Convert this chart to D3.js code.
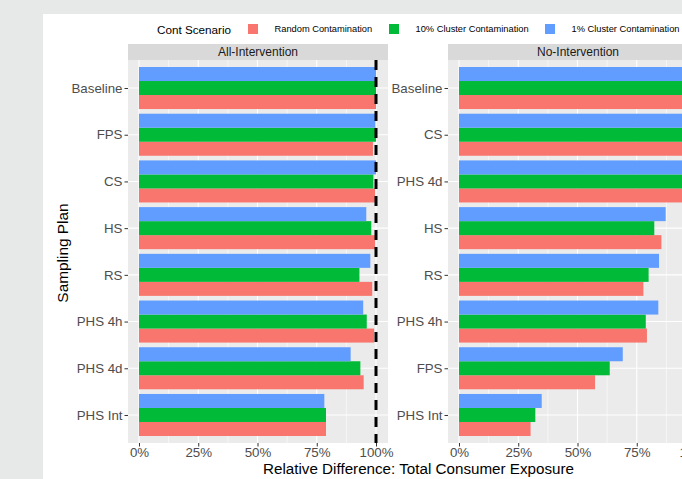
<!DOCTYPE html>
<html>
<head>
<meta charset="utf-8">
<script src="https://cdn.jsdelivr.net/npm/d3@7"></script>
<style>
  html, body { margin: 0; padding: 0; background: #e6e9e8; }
  svg { display: block; }
  text { font-family: "Liberation Sans", Arial, sans-serif; }
</style>
</head>
<body>
<svg id="chart" width="682" height="479"></svg>
<script>
// Contamination scenarios (legend order) and their fill colours
const scenarios = ["Random Contamination", "10% Cluster Contamination", "1% Cluster Contamination"];
const scenarioColors = ["#f8766d", "#00ba38", "#619cff"];

// Facet titles
const facets = ["All-Intervention", "No-Intervention"];

// Sampling plans per facet, top to bottom
const plansAll = ["Baseline", "FPS", "CS", "HS", "RS", "PHS 4h", "PHS 4d", "PHS Int"];
const plansNo = ["Baseline", "CS", "PHS 4d", "HS", "RS", "PHS 4h", "FPS", "PHS Int"];

// Relative difference in total consumer exposure, one array per scenario, in plan order
const allRandom = [1.000, 0.987, 0.996, 0.996, 0.984, 0.992, 0.948, 0.789];
const allCluster10 = [1.000, 1.000, 0.989, 0.980, 0.930, 0.961, 0.934, 0.789];
const allCluster1 = [1.000, 0.997, 1.000, 0.959, 0.976, 0.946, 0.893, 0.782];

const noRandom = [1.000, 1.000, 1.000, 0.854, 0.778, 0.793, 0.574, 0.302];
const noCluster10 = [1.000, 1.000, 1.000, 0.824, 0.800, 0.788, 0.636, 0.322];
const noCluster1 = [1.000, 1.000, 1.000, 0.872, 0.844, 0.841, 0.691, 0.349];

// X axis ticks
const xTicks = [0, 0.25, 0.5, 0.75, 1.0];
const xMinorTicks = [0.125, 0.375, 0.625, 0.875];
const referenceValue = 1.0;

const svg = d3.select("#chart");

// White plot background
svg.append("rect").attr("x", 43).attr("y", 14).attr("width", 682 - 43).attr("height", 479 - 14).attr("fill", "#ffffff");

// Panel geometry
const panelTop = 60, panelBottom = 443, stripTop = 44;
const panelW = 260;
const panelLefts = [128, 448];

const panelsData = [
  { title: facets[0], plans: plansAll, series: [allRandom, allCluster10, allCluster1], refLine: true },
  { title: facets[1], plans: plansNo, series: [noRandom, noCluster10, noCluster1], refLine: false }
];

const fmtPct = d3.format(".0%");

panelsData.forEach((p, pi) => {
  const left = panelLefts[pi];
  const g = svg.append("g");

  // Continuous x with 5% expansion on each side of [0, 1.0]
  const x = d3.scaleLinear().domain([-0.0464, 1.0506]).range([left, left + panelW]);

  // Discrete y with 0.6 units of padding at each end
  const y = d3.scalePoint().domain(p.plans).range([panelTop, panelBottom]).padding(0.6);
  const step = y.step();
  const barGroup = 0.9 * step;
  // Dodged position: blue (1%) on top, then green (10%), then red (random)
  const inner = d3.scaleBand().domain([2, 1, 0]).range([-barGroup / 2, barGroup / 2]);

  // Panel background
  g.append("rect").attr("x", left).attr("y", panelTop).attr("width", panelW)
    .attr("height", panelBottom - panelTop).attr("fill", "#ebebeb");

  // Strip
  g.append("rect").attr("x", left).attr("y", stripTop).attr("width", panelW)
    .attr("height", panelTop - stripTop).attr("fill", "#d9d9d9");
  g.append("text").attr("x", left + panelW / 2).attr("y", stripTop + 12.3)
    .attr("text-anchor", "middle").attr("font-size", 12).attr("fill", "#1a1a1a").text(p.title);

  // Grid lines
  g.selectAll(".minor").data(xMinorTicks).join("line")
    .attr("x1", d => x(d)).attr("x2", d => x(d)).attr("y1", panelTop).attr("y2", panelBottom)
    .attr("stroke", "#ffffff").attr("stroke-width", 0.55);
  g.selectAll(".major").data(xTicks).join("line")
    .attr("x1", d => x(d)).attr("x2", d => x(d)).attr("y1", panelTop).attr("y2", panelBottom)
    .attr("stroke", "#ffffff").attr("stroke-width", 1.1);
  g.selectAll(".hmajor").data(p.plans).join("line")
    .attr("x1", left).attr("x2", left + panelW).attr("y1", d => y(d)).attr("y2", d => y(d))
    .attr("stroke", "#ffffff").attr("stroke-width", 1.1);

  // Bars
  p.series.forEach((vals, si) => {
    g.selectAll(".bar" + si).data(p.plans).join("rect")
      .attr("x", x(0))
      .attr("y", (d) => y(d) + inner(si))
      .attr("width", (d, i) => x(vals[i]) - x(0))
      .attr("height", inner.bandwidth())
      .attr("fill", scenarioColors[si]);
  });

  // Reference line at 100%
  if (p.refLine) {
    g.append("line").attr("x1", x(referenceValue)).attr("x2", x(referenceValue))
      .attr("y1", panelTop).attr("y2", panelBottom)
      .attr("stroke", "#000000").attr("stroke-width", 3).attr("stroke-dasharray", "10,7");
  }

  // Y axis
  const yAxis = d3.axisLeft(y).tickSize(3.5).tickPadding(2);
  const ya = g.append("g").attr("transform", `translate(${left},0)`).call(yAxis);
  ya.select(".domain").remove();
  ya.selectAll(".tick line").attr("stroke", "#333333").attr("stroke-width", 1);
  ya.selectAll(".tick text").attr("font-size", 13.3).attr("fill", "#4d4d4d")
    .attr("font-family", "'Liberation Sans', Arial, sans-serif");

  // X axis
  const xAxis = d3.axisBottom(x).tickValues(xTicks).tickFormat(fmtPct).tickSize(3.5).tickPadding(1.5);
  const xa = g.append("g").attr("transform", `translate(0,${panelBottom})`).call(xAxis);
  xa.select(".domain").remove();
  xa.selectAll(".tick line").attr("stroke", "#333333").attr("stroke-width", 1);
  xa.selectAll(".tick text").attr("font-size", 13.3).attr("fill", "#4d4d4d")
    .attr("font-family", "'Liberation Sans', Arial, sans-serif");
});

// Axis titles
svg.append("text").attr("x", 418.5).attr("y", 474).attr("text-anchor", "middle")
  .attr("font-size", 15.2).attr("fill", "#000000").text("Relative Difference: Total Consumer Exposure");
svg.append("text").attr("transform", "translate(68,253) rotate(-90)").attr("text-anchor", "middle")
  .attr("font-size", 15.4).attr("fill", "#000000").text("Sampling Plan");

// Legend
const legend = svg.append("g");
legend.append("text").attr("x", 157).attr("y", 33.5).attr("font-size", 11.7).attr("fill", "#000000").text("Cont Scenario");
const keyX = [248, 389, 545];
scenarios.forEach((s, i) => {
  legend.append("rect").attr("x", keyX[i]).attr("y", 24).attr("width", 10).attr("height", 10)
    .attr("fill", scenarioColors[i]);
  legend.append("text").attr("x", keyX[i] + 26.5).attr("y", 32.3).attr("font-size", 9.3)
    .attr("fill", "#000000").text(s);
});
</script>
</body>
</html>
